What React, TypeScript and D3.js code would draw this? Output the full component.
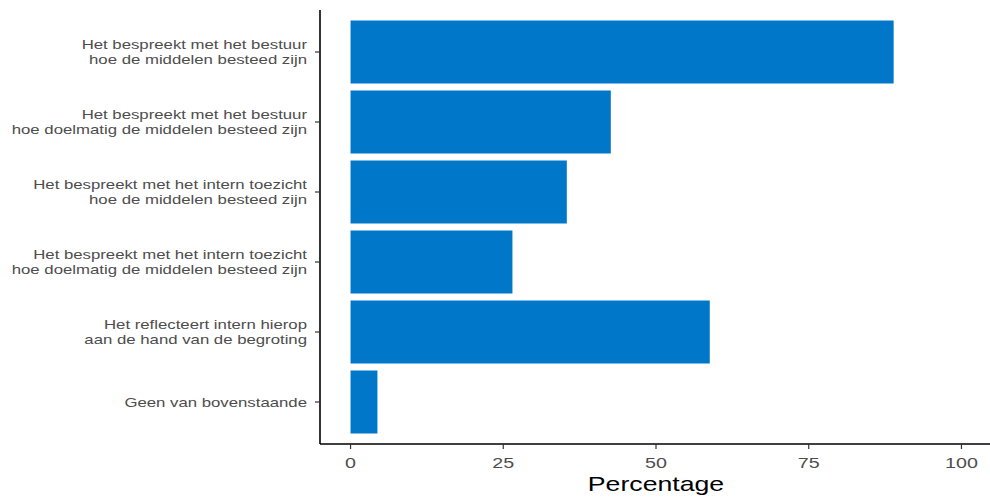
import React from "react";
import * as d3 from "d3";

const categories: string[][] = [
  ["Het bespreekt met het bestuur", "hoe de middelen besteed zijn"],
  ["Het bespreekt met het bestuur", "hoe doelmatig de middelen besteed zijn"],
  ["Het bespreekt met het intern toezicht", "hoe de middelen besteed zijn"],
  ["Het bespreekt met het intern toezicht", "hoe doelmatig de middelen besteed zijn"],
  ["Het reflecteert intern hierop", "aan de hand van de begroting"],
  ["Geen van bovenstaande"],
];
const values: number[] = [88.9, 42.6, 35.4, 26.5, 58.8, 4.4];
const xTicks: number[] = [0, 25, 50, 75, 100];
const xTitle = "Percentage";

export default function App() {
  const W = 990, H = 498;
  const left = 320, right = 992, top = 10, bottom = 444;
  const x = d3.scaleLinear().domain([-5, 105]).range([left, right]);
  const step = (bottom - top) / (categories.length + 0.2);
  const center = (i: number) => top + 0.6 * step + i * step;
  const bh = step * 0.9;
  const font = "'Liberation Sans', Arial, sans-serif";
  const sx = 1.27;
  return (
    <svg width={W} height={H} style={{ position: "absolute", left: 0, top: 0, background: "#fff" }}>
      {values.map((v, i) => (
        <rect key={i} x={x(0)} y={center(i) - bh / 2} width={x(v) - x(0)} height={bh} fill="#0077C8" />
      ))}
      <line x1={left} x2={left} y1={top} y2={bottom} stroke="#000" strokeWidth={1.6} />
      <line x1={left} x2={right} y1={bottom} y2={bottom} stroke="#000" strokeWidth={1.6} />
      {categories.map((lines, i) => (
        <g key={i}>
          <line x1={left - 5} x2={left} y1={center(i)} y2={center(i)} stroke="#333" strokeWidth={1.2} />
          <g transform={`translate(${left - 13},${center(i)}) scale(${sx},1)`}>
            <text x={0} y={0} textAnchor="end" fontFamily={font} fontSize={13.2} fill="#4D4D4D">
              {lines.map((l, j) => (
                <tspan key={j} x={0} dy={j === 0 ? (-(lines.length - 1) / 2) * 14.5 + 4.7 : 14.5}>{l}</tspan>
              ))}
            </text>
          </g>
        </g>
      ))}
      {xTicks.map((t) => (
        <g key={t}>
          <line x1={x(t)} x2={x(t)} y1={bottom} y2={bottom + 5} stroke="#333" strokeWidth={1.2} />
          <g transform={`translate(${x(t)},${bottom + 24}) scale(${sx},1)`}>
            <text x={0} y={0} textAnchor="middle" fontFamily={font} fontSize={15.5} fill="#4D4D4D">{t}</text>
          </g>
        </g>
      ))}
      <g transform={`translate(${(x(-5) + x(105)) / 2},491) scale(${sx},1)`}>
        <text x={0} y={0} textAnchor="middle" fontFamily={font} fontSize={21} fill="#000">{xTitle}</text>
      </g>
    </svg>
  );
}
